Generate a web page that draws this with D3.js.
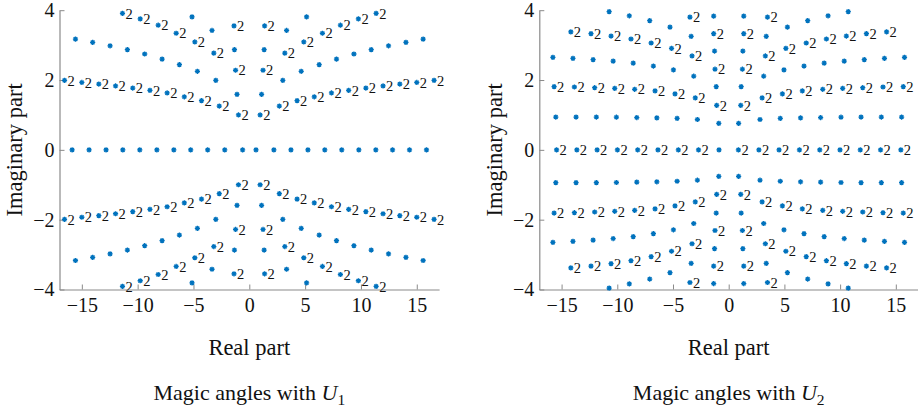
<!DOCTYPE html>
<html><head><meta charset="utf-8">
<script src="https://cdn.jsdelivr.net/npm/d3@7"></script>
<style>body{margin:0;background:#fff}svg{display:block}text{font-family:"Liberation Serif","Times New Roman",serif}</style>
</head><body><svg id="c" width="918" height="408"></svg>
<script>
// ---------- Panel U1 ----------
const u1RealX = [-15.87,-14.35,-12.83,-11.33,-9.81,-8.28,-6.76,-5.25,-3.73,-2.2,-0.6,0.6,2.2,3.73,5.25,6.76,8.28,9.81,11.33,12.83,14.35,15.87];
const u1RealY = [0,0,0,0,0,0,0,0,0,0,0,0,0,0,0,0,0,0,0,0,0,0];

const u1ArcAX = [-16.55,-15.0,-13.48,-11.98,-10.44,-8.9,-7.36,-5.82,-4.28,-2.69,-0.97,0.97,2.69,4.28,5.82,7.36,8.9,10.44,11.98,13.48,15.0,16.55];
const u1ArcAUp = [1.99,1.93,1.885,1.83,1.77,1.705,1.63,1.52,1.41,1.255,1.0,1.0,1.255,1.41,1.52,1.63,1.705,1.77,1.83,1.885,1.93,1.99];
const u1ArcADown = [-1.99,-1.93,-1.885,-1.83,-1.77,-1.705,-1.63,-1.52,-1.41,-1.255,-1.0,-1.0,-1.255,-1.41,-1.52,-1.63,-1.705,-1.77,-1.83,-1.885,-1.93,-1.99];

const u1ArcBX = [-15.57,-14.03,-12.47,-10.92,-9.37,-7.81,-6.26,-4.65,-3.0,-1.1,1.1,3.0,4.65,6.26,7.81,9.37,10.92,12.47,14.03,15.57];
const u1ArcBUp = [3.17,3.08,2.98,2.87,2.745,2.6,2.44,2.25,1.99,1.59,1.59,1.99,2.25,2.44,2.6,2.745,2.87,2.98,3.08,3.17];
const u1ArcBDown = [-3.17,-3.08,-2.98,-2.87,-2.745,-2.6,-2.44,-2.25,-1.99,-1.59,-1.59,-1.99,-2.25,-2.44,-2.6,-2.745,-2.87,-2.98,-3.08,-3.17];

const u1ArcCX = [-11.36,-9.77,-8.16,-6.55,-4.88,-3.18,-1.23,1.23,3.18,4.88,6.55,8.16,9.77,11.36];
const u1ArcCUp = [3.91,3.75,3.57,3.34,3.09,2.77,2.28,2.28,2.77,3.09,3.34,3.57,3.75,3.91];
const u1ArcCDown = [-3.91,-3.75,-3.57,-3.34,-3.09,-2.77,-2.28,-2.28,-2.77,-3.09,-3.34,-3.57,-3.75,-3.91];

const u1ArcDX = [-5.13,-3.34,-1.33,1.33,3.34,5.13];
const u1ArcDUp = [3.81,3.42,2.87,2.87,3.42,3.81];
const u1ArcDDown = [-3.81,-3.42,-2.87,-2.87,-3.42,-3.81];

const u1ArcEX = [-1.37,1.37];
const u1ArcEUp = [3.55,3.55];
const u1ArcEDown = [-3.55,-3.55];

// ---------- Panel U2 ----------
const u2Row0X = [-15.45,-13.63,-11.81,-9.99,-8.17,-6.35,-4.52,-2.71,0.87,2.71,4.52,6.35,8.17,9.99,11.81,13.63,15.45];
const u2Row0Y = [0,0,0,0,0,0,0,0,0,0,0,0,0,0,0,0,0];
const u2Row0SingleX = [-0.87];
const u2Row0SingleY = [0];

const u2Row1X = [-15.52,-13.7,-11.88,-10.08,-8.25,-6.45,-4.63,-2.81,-0.89,0.89,2.81,4.63,6.45,8.25,10.08,11.88,13.7,15.52];
const u2Row1Up = [0.94,0.94,0.94,0.935,0.925,0.915,0.9,0.87,0.76,0.76,0.87,0.9,0.915,0.925,0.935,0.94,0.94,0.94];
const u2Row1Down = [-0.94,-0.94,-0.94,-0.935,-0.925,-0.915,-0.9,-0.87,-0.76,-0.76,-0.87,-0.9,-0.915,-0.925,-0.935,-0.94,-0.94,-0.94];

const u2Row2X = [-15.67,-13.85,-12.03,-10.23,-8.44,-6.61,-4.82,-3.0,-1.08,1.08,3.0,4.82,6.61,8.44,10.23,12.03,13.85,15.67];
const u2Row2Up = [1.81,1.8,1.78,1.76,1.735,1.69,1.605,1.49,1.275,1.275,1.49,1.605,1.69,1.735,1.76,1.78,1.8,1.81];
const u2Row2Down = [-1.81,-1.8,-1.78,-1.76,-1.735,-1.69,-1.605,-1.49,-1.275,-1.275,-1.49,-1.605,-1.69,-1.735,-1.76,-1.78,-1.8,-1.81];

const u2Row3X = [-15.78,-13.98,-12.17,-10.37,-8.57,-6.76,-4.96,-3.14,-1.12,1.12,3.14,4.96,6.76,8.57,10.37,12.17,13.98,15.78];
const u2Row3Up = [2.65,2.62,2.585,2.54,2.485,2.4,2.29,2.11,1.81,1.81,2.11,2.29,2.4,2.485,2.54,2.585,2.62,2.65];
const u2Row3Down = [-2.65,-2.62,-2.585,-2.54,-2.485,-2.4,-2.29,-2.11,-1.81,-1.81,-2.11,-2.29,-2.4,-2.485,-2.54,-2.585,-2.62,-2.65];

const u2Row4X = [-14.17,-12.36,-10.56,-8.77,-6.96,-5.13,-3.29,-1.23,1.23,3.29,5.13,6.96,8.77,10.56,12.36,14.17];
const u2Row4Up = [3.38,3.33,3.26,3.175,3.06,2.905,2.69,2.31,2.31,2.69,2.905,3.06,3.175,3.26,3.33,3.38];
const u2Row4Down = [-3.38,-3.33,-3.26,-3.175,-3.06,-2.905,-2.69,-2.31,-2.31,-2.69,-2.905,-3.06,-3.175,-3.26,-3.33,-3.38];

const u2Row5X = [-10.73,-8.92,-7.09,-5.27,-3.37,-1.27,1.27,3.37,5.27,7.09,8.92,10.73];
const u2Row5Up = [3.96,3.84,3.7,3.515,3.25,2.83,2.83,3.25,3.515,3.7,3.84,3.96];
const u2Row5Down = [-3.96,-3.84,-3.7,-3.515,-3.25,-2.83,-2.83,-3.25,-3.515,-3.7,-3.84,-3.96];

const u2Row6X = [-3.48,-1.35,1.35,3.48];
const u2Row6Up = [3.8,3.33,3.33,3.8];
const u2Row6Down = [-3.8,-3.33,-3.33,-3.8];

const u2Row7X = [-1.35,1.35];
const u2Row7Up = [3.83,3.83];
const u2Row7Down = [-3.83,-3.83];

// ---------- ticks / labels ----------
const xTicks = [-15,-10,-5,0,5,10,15];
const yTicks = [-4,-2,0,2,4];
const xLabel = "Real part";
const yLabel = "Imaginary part";
const titleText = "Magic angles with ";
const subscripts = ["1","2"];

function pts(xs, ys, lab){ return xs.map((v,i)=>({x:v,y:ys[i],lab:lab})); }

const panels = [
  { left:59.5, right:439.1, sub:subscripts[0], data:[].concat(
      pts(u1RealX,u1RealY,false),
      pts(u1ArcAX,u1ArcAUp,true), pts(u1ArcAX,u1ArcADown,true),
      pts(u1ArcBX,u1ArcBUp,false), pts(u1ArcBX,u1ArcBDown,false),
      pts(u1ArcCX,u1ArcCUp,true), pts(u1ArcCX,u1ArcCDown,true),
      pts(u1ArcDX,u1ArcDUp,false), pts(u1ArcDX,u1ArcDDown,false),
      pts(u1ArcEX,u1ArcEUp,true), pts(u1ArcEX,u1ArcEDown,true)) },
  { left:539.3, right:918.1, sub:subscripts[1], data:[].concat(
      pts(u2Row0X,u2Row0Y,true), pts(u2Row0SingleX,u2Row0SingleY,false),
      pts(u2Row1X,u2Row1Up,false), pts(u2Row1X,u2Row1Down,false),
      pts(u2Row2X,u2Row2Up,true), pts(u2Row2X,u2Row2Down,true),
      pts(u2Row3X,u2Row3Up,false), pts(u2Row3X,u2Row3Down,false),
      pts(u2Row4X,u2Row4Up,true), pts(u2Row4X,u2Row4Down,true),
      pts(u2Row5X,u2Row5Up,false), pts(u2Row5X,u2Row5Down,false),
      pts(u2Row6X,u2Row6Up,true), pts(u2Row6X,u2Row6Down,true),
      pts(u2Row7X,u2Row7Up,false), pts(u2Row7X,u2Row7Down,false)) }
];

const svg = d3.select("#c");
const plotTop = 10.2, plotBottom = 289.5;
const axisColor = "#8a8a8a", textColor = "#111";
const blue = "#0072BD";
const star = "M-2.6,0H2.6M0,-2.6V2.6M-1.85,-1.85L1.85,1.85M-1.85,1.85L1.85,-1.85";

panels.forEach(p=>{
  const x = d3.scaleLinear().domain([-17,17]).range([p.left,p.right]);
  const y = d3.scaleLinear().domain([-4,4]).range([plotBottom,plotTop]);
  const cx = x(0);

  const gx = svg.append("g").attr("transform",`translate(0,${plotBottom})`)
    .call(d3.axisBottom(x).tickValues(xTicks).tickSizeInner(-5).tickSizeOuter(0).tickPadding(8.5));
  const gy = svg.append("g").attr("transform",`translate(${p.left},0)`)
    .call(d3.axisLeft(y).tickValues(yTicks).tickSizeInner(-5).tickSizeOuter(0).tickPadding(5));
  [gx,gy].forEach(g=>{
    g.attr("font-family",null).attr("font-size",null);
    g.select(".domain").attr("stroke",axisColor).attr("stroke-width",1.2);
    g.selectAll(".tick line").attr("stroke",axisColor).attr("stroke-width",1);
    g.selectAll(".tick text").attr("fill",textColor).style("font-size","20px");
  });

  const g = svg.append("g");
  g.selectAll("path.m").data(p.data).join("path").attr("class","m")
    .attr("transform",d=>`translate(${x(d.x)},${y(d.y)})`)
    .attr("d",star).attr("stroke",blue).attr("stroke-width",1.3).attr("fill","none");
  g.selectAll("circle.m").data(p.data).join("circle").attr("class","m")
    .attr("cx",d=>x(d.x)).attr("cy",d=>y(d.y)).attr("r",1.5).attr("fill",blue);
  g.selectAll("text.lab").data(p.data.filter(d=>d.lab)).join("text").attr("class","lab")
    .attr("x",d=>x(d.x)+3).attr("y",d=>y(d.y)).attr("dy","0.36em")
    .style("font-size","14.5px").attr("fill",textColor).text("2");

  svg.append("text").attr("x",cx).attr("y",355).attr("text-anchor","middle")
    .style("font-size","22.5px").attr("fill",textColor).text(xLabel);
  svg.append("text").attr("transform",`translate(${p.left-45},${(plotTop+plotBottom)/2}) rotate(-90)`)
    .attr("text-anchor","middle").attr("dy","0.35em")
    .style("font-size","22.5px").attr("fill",textColor).text(yLabel);
  const t = svg.append("text").attr("x",cx).attr("y",400).attr("text-anchor","middle")
    .style("font-size","22px").attr("fill",textColor);
  t.append("tspan").text(titleText);
  t.append("tspan").style("font-style","italic").text("U");
  t.append("tspan").attr("dy",5).style("font-size","15.5px").text(p.sub);
});
</script></body></html>
